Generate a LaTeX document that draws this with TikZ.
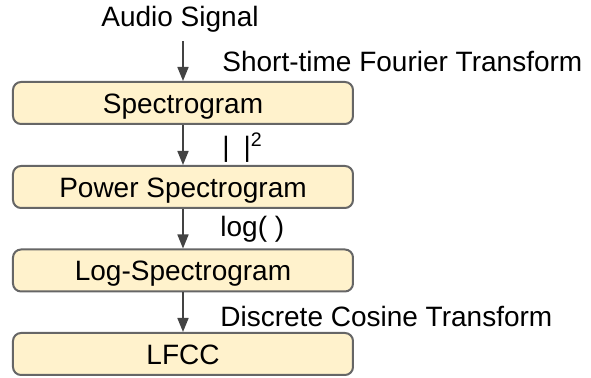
\documentclass[tikz,border=0pt]{standalone}
\usepackage{fontspec}
\setmainfont{Liberation Sans}
\usetikzlibrary{positioning,arrows.meta,calc}

\definecolor{boxfill}{HTML}{FFF2CC}
\definecolor{boxline}{HTML}{666666}
\definecolor{flowline}{HTML}{434343}

\begin{document}
\begin{tikzpicture}[
  x=1pt, y=1pt,
  stage/.style={draw=boxline, line width=1pt, fill=boxfill, rounded corners=4pt, minimum width=170pt, minimum height=21pt, inner sep=0pt, text height=13pt, text depth=2.5pt, font=\fontsize{14}{16}\selectfont},
  step label/.style={anchor=base west, inner sep=0pt, font=\fontsize{14}{16}\selectfont},
  flow arrow/.style={-{Triangle[length=7pt,width=5.5pt]}, draw=flowline, fill=flowline, line width=0.8pt}
]
\path[use as bounding box] (0,0) rectangle (295.5,-189);

\node[font=\fontsize{14}{16}\selectfont, inner sep=0pt, anchor=base] (audio) at (90,-13.5) {Audio Signal};

\node[stage] (spec) at (91.5,-51.5) {Spectrogram};
\node[stage] (power) at (91.5,-93.5) {Power Spectrogram};
\node[stage] (logspec) at (91.5,-135.25) {Log-Spectrogram};
\node[stage] (lfcc) at (91.5,-177) {LFCC};

\draw[flow arrow, shorten <=4pt] (audio.south -| spec.north) -- (spec.north);
\draw[flow arrow] (spec) -- (power);
\draw[flow arrow] (power) -- (logspec);
\draw[flow arrow] (logspec) -- (lfcc);

\node[step label] (stft) at (111,-35.8) {Short-time Fourier Transform};
\node[step label] (square) at (111,-78.5) {|\hspace{7pt}|\textsuperscript{2}};
\node[step label] (logop) at (110,-118.5) {log( )};
\node[step label] (dct) at (110,-163.3) {Discrete Cosine Transform};
\end{tikzpicture}
\end{document}
